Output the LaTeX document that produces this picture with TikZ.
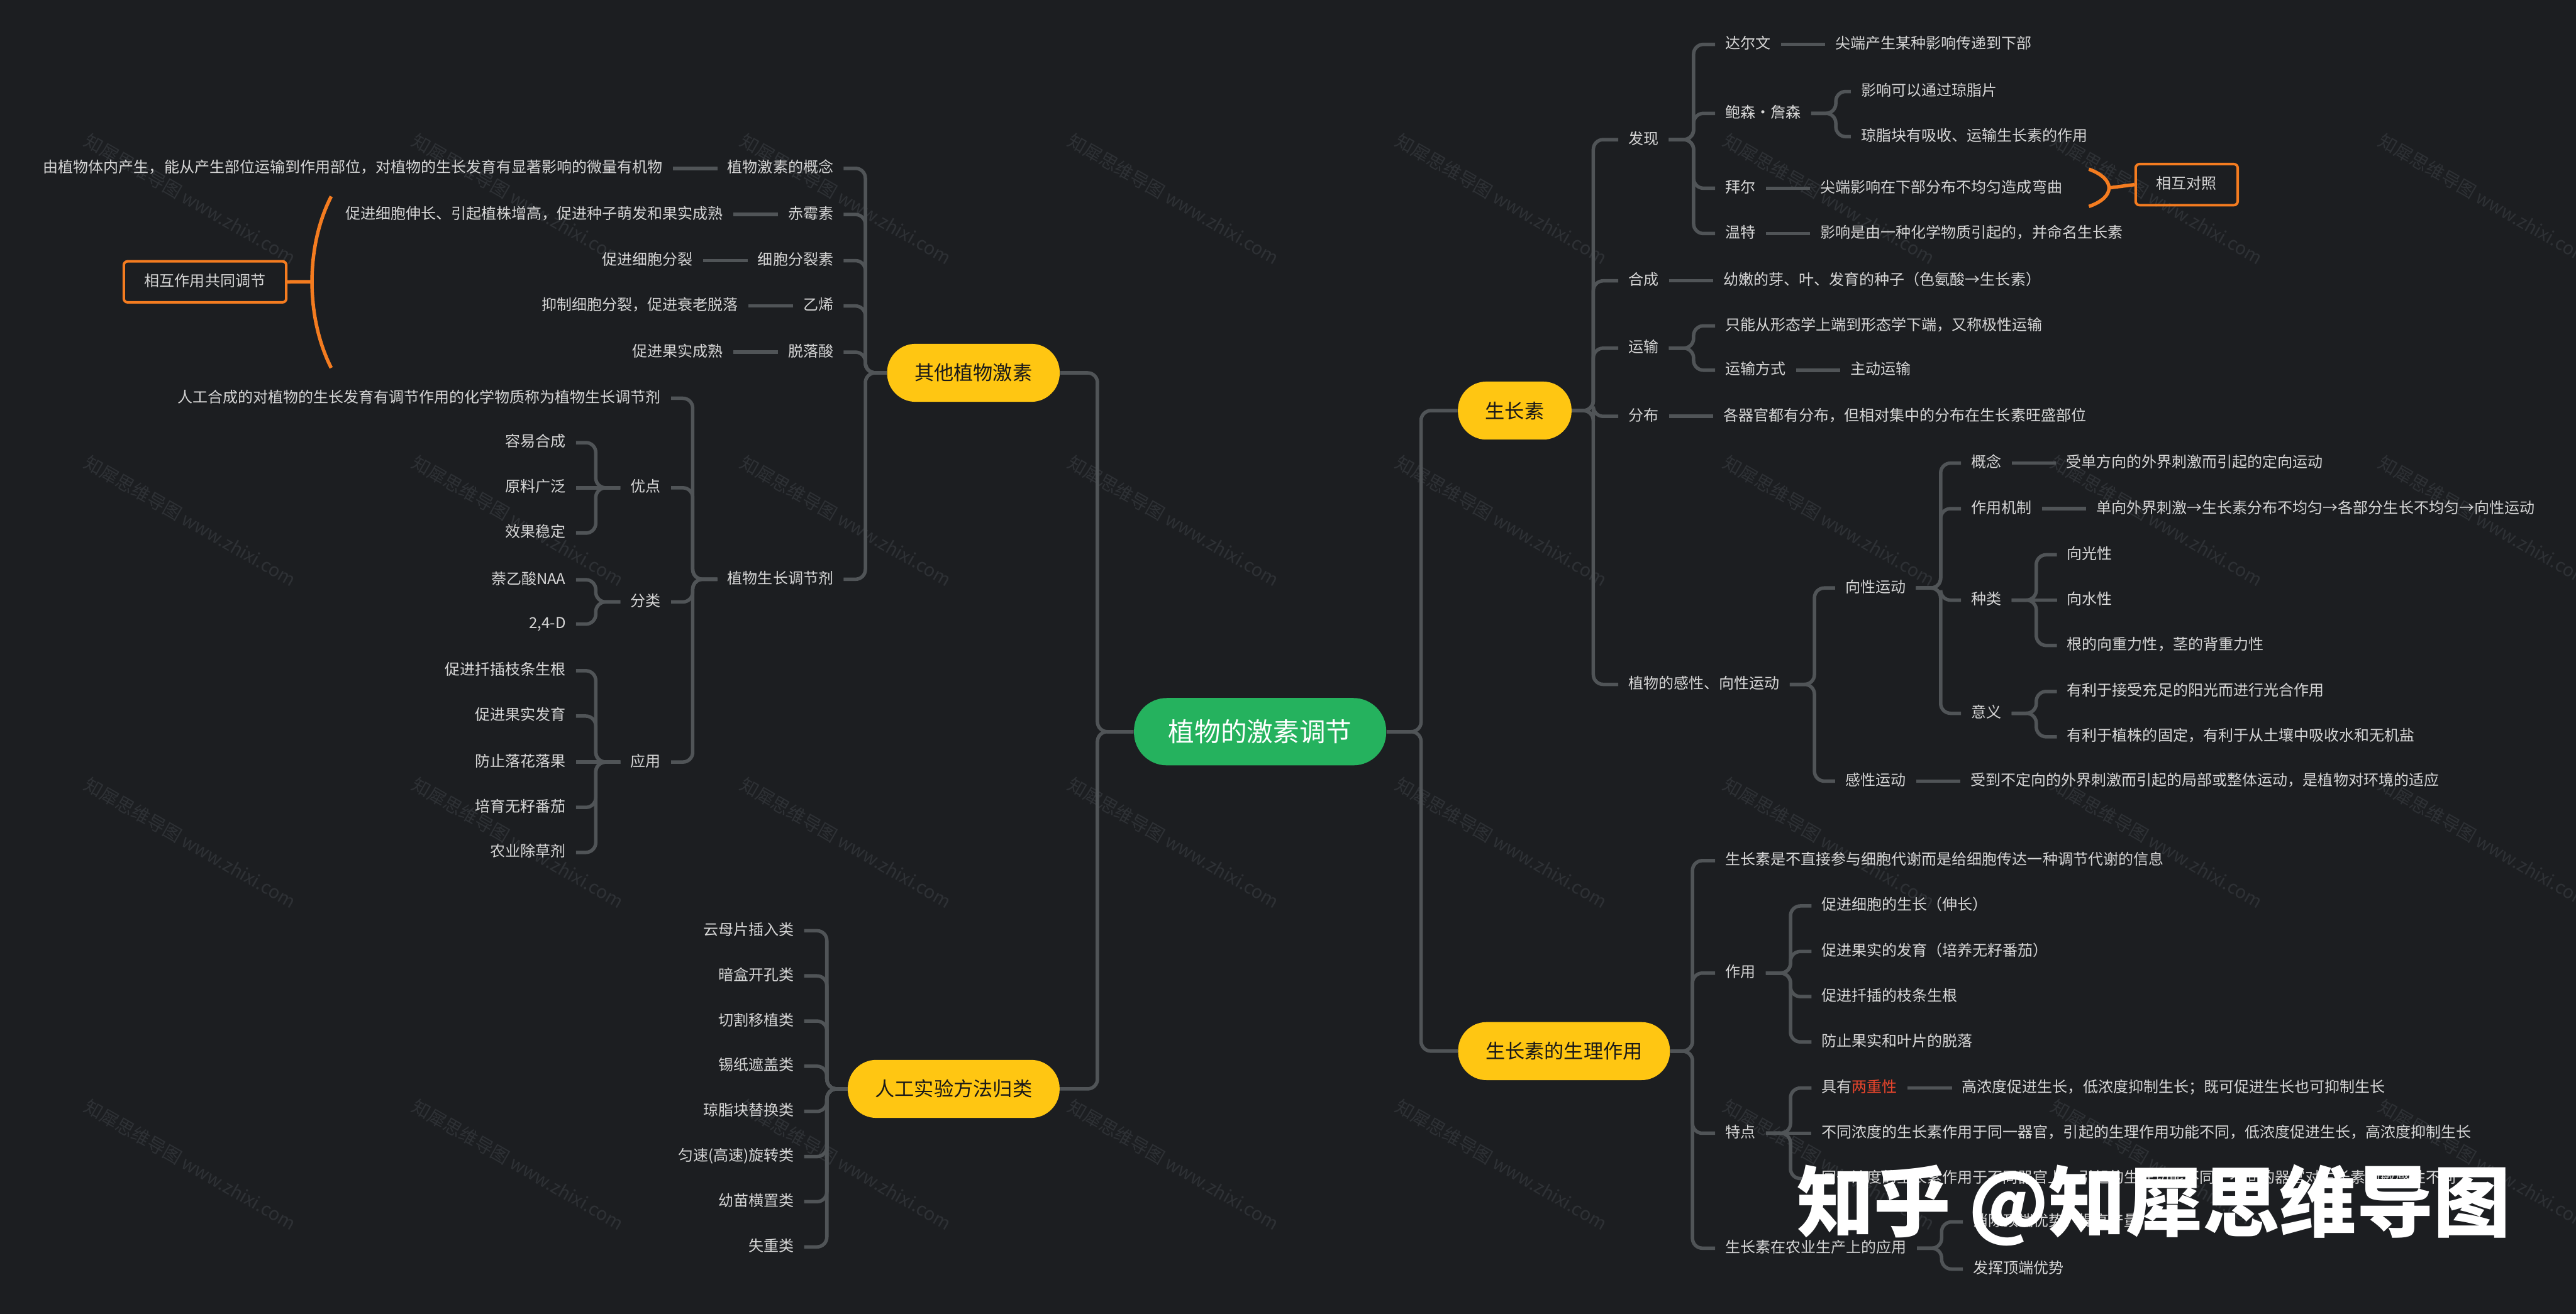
\documentclass[tikz,border=0pt]{standalone}
\usepackage{fontspec}
\setmainfont{Noto Sans CJK SC}
\usepackage{tikz}
\usetikzlibrary{positioning,calc}

\definecolor{bgc}{HTML}{1C1E21}
\definecolor{linec}{HTML}{505457}
\definecolor{txtc}{HTML}{D6D6D6}
\definecolor{topy}{HTML}{FFC612}
\definecolor{rootg}{HTML}{25B25E}
\definecolor{orng}{HTML}{F47C20}
\definecolor{redt}{HTML}{E8452C}
\definecolor{wmc}{HTML}{2E3135}

\begin{document}
\begin{tikzpicture}[x=0.03cm, y=-0.03cm,
  root/.style={fill=rootg, text=white, font=\fontsize{13.6}{16}\selectfont, rounded corners=0.6cm, minimum height=1.23cm, inner xsep=0.63cm, inner ysep=0pt},
  topic/.style={fill=topy, text=black!90, font=\fontsize{10.2}{12}\selectfont, rounded corners=0.52cm, minimum height=1.06cm, inner xsep=0.5cm, inner ysep=0pt},
  sub/.style={text=txtc, font=\fontsize{7.85}{9.4}\selectfont, inner xsep=0.18cm, inner ysep=0.04cm, text height=0.22cm, text depth=0.06cm},
  note/.style={sub, draw=orng, line width=1.3pt, rounded corners=2pt, inner xsep=0.38cm, minimum height=0.75cm},
  conn/.style={draw=linec, line width=1.8pt, rounded corners=0.18cm},
  sumline/.style={draw=orng, line width=1.8pt},
  wmark/.style={text=wmc, font=\fontsize{9.4}{11}\selectfont, rotate=-30, anchor=north west, inner sep=0pt}]

  \useasboundingbox (0,0) rectangle (1568,800);
  \fill[bgc] (0,0) rectangle (1568,800);

  % faint tiled watermark
  \foreach \i in {0,...,7}
    \foreach \j in {0,...,3}
      \node[wmark] (wm\i\j) at (55+199.5*\i, 80+196*\j) {知犀思维导图 www.zhixi.com};

  % root and main topics
  \node[root] (root) at (767,445.5) {植物的激素调节};
  \node[topic] (szs) at (922,250) {生长素};
  \node[topic] (slzy) at (952,640) {生长素的生理作用};
  \node[topic] (qt) at (592.5,227) {其他植物激素};
  \node[topic] (rg) at (580.5,663) {人工实验方法归类};
  \draw[conn] (root.east) -- ++(21,0) |- (szs.west);
  \draw[conn] (root.east) -- ++(21,0) |- (slzy.west);
  \draw[conn] (root.west) -- ++(-22,0) |- (qt.east);
  \draw[conn] (root.west) -- ++(-22,0) |- (rg.east);

  % 生长素
  \node[sub, anchor=west] (fx) at (985,85) {发现};
  \node[sub, anchor=west] (hc) at (985,171) {合成};
  \node[sub, anchor=west] (ys) at (985,212) {运输};
  \node[sub, anchor=west] (fb) at (985,253.5) {分布};
  \node[sub, anchor=west] (gx) at (985,416.7) {植物的感性、向性运动};
  \foreach \ch in {fx,hc,ys,fb,gx}
    \draw[conn] (szs.east) -- ++(13,0) |- (\ch.west);

  \node[sub, anchor=west] (dew) at (1044,27) {达尔文};
  \node[sub, anchor=west] (bsj) at (1044,69) {鲍森·詹森};
  \node[sub, anchor=west] (be) at (1044,114.6) {拜尔};
  \node[sub, anchor=west] (wt) at (1044,142.2) {温特};
  \foreach \ch in {dew,bsj,be,wt}
    \draw[conn] (fx.east) -- ++(15,0) |- (\ch.west);
  \node[sub, right=0.81cm of dew] (dewc) {尖端产生某种影响传递到下部};
  \draw[conn] (dew) -- (dewc);
  \node[sub, anchor=west] (bsja) at (1126.6,55.7) {影响可以通过琼脂片};
  \node[sub, anchor=west] (bsjb) at (1126.6,83.2) {琼脂块有吸收、运输生长素的作用};
  \foreach \ch in {bsja,bsjb}
    \draw[conn] (bsj.east) -- ++(15,0) |- (\ch.west);
  \node[sub, right=0.81cm of be] (bec) {尖端影响在下部分布不均匀造成弯曲};
  \draw[conn] (be) -- (bec);
  \node[sub, right=0.81cm of wt] (wtc) {影响是由一种化学物质引起的，并命名生长素};
  \draw[conn] (wt) -- (wtc);
  \node[note] (xhdz) at (1331,112.4) {相互对照};
  \coordinate (bry) at (1283.7,114.4);
  \draw[sumline] (1271.5,103) .. controls (1287.8,109) and (1287.8,120) .. (1271.5,125.7);
  \draw[sumline] (bry) -- (xhdz.west);

  \node[sub, right=0.81cm of hc] (hcc) {幼嫩的芽、叶、发育的种子（色氨酸→生长素）};
  \draw[conn] (hc) -- (hcc);
  \node[sub, anchor=west] (ysa) at (1044,198.4) {只能从形态学上端到形态学下端，又称极性运输};
  \node[sub, anchor=west] (ysb) at (1044,225.4) {运输方式};
  \foreach \ch in {ysa,ysb}
    \draw[conn] (ys.east) -- ++(15,0) |- (\ch.west);
  \node[sub, right=0.81cm of ysb] (ysbc) {主动运输};
  \draw[conn] (ysb) -- (ysbc);
  \node[sub, right=0.81cm of fb] (fbc) {各器官都有分布，但相对集中的分布在生长素旺盛部位};
  \draw[conn] (fb) -- (fbc);

  \node[sub, anchor=west] (xx) at (1117,358) {向性运动};
  \node[sub, anchor=west] (gan) at (1117,475.6) {感性运动};
  \foreach \ch in {xx,gan}
    \draw[conn] (gx.east) -- ++(15,0) |- (\ch.west);
  \node[sub, right=0.81cm of gan] (ganc) {受到不定向的外界刺激而引起的局部或整体运动，是植物对环境的适应};
  \draw[conn] (gan) -- (ganc);
  \node[sub, anchor=west] (gn) at (1193.6,282) {概念};
  \node[sub, anchor=west] (jz) at (1193.6,309.7) {作用机制};
  \node[sub, anchor=west] (zl) at (1193.6,365.4) {种类};
  \node[sub, anchor=west] (yy) at (1193.6,434.3) {意义};
  \foreach \ch in {gn,jz,zl,yy}
    \draw[conn] (xx.east) -- ++(15,0) |- (\ch.west);
  \node[sub, right=0.81cm of gn] (gnc) {受单方向的外界刺激而引起的定向运动};
  \draw[conn] (gn) -- (gnc);
  \node[sub, right=0.81cm of jz] (jzc) {单向外界刺激→生长素分布不均匀→各部分生长不均匀→向性运动};
  \draw[conn] (jz) -- (jzc);
  \node[sub, anchor=west] (zla) at (1252,337.8) {向光性};
  \node[sub, anchor=west] (zlb) at (1252,365.4) {向水性};
  \node[sub, anchor=west] (zlc) at (1252,393) {根的向重力性，茎的背重力性};
  \foreach \ch in {zla,zlc}
    \draw[conn] (zl.east) -- ++(15,0) |- (\ch.west);
  \draw[conn] (zl) -- (zlb);
  \node[sub, anchor=west] (yya) at (1252,421) {有利于接受充足的阳光而进行光合作用};
  \node[sub, anchor=west] (yyb) at (1252,448.6) {有利于植株的固定，有利于从土壤中吸收水和无机盐};
  \foreach \ch in {yya,yyb}
    \draw[conn] (yy.east) -- ++(15,0) |- (\ch.west);

  % 生长素的生理作用
  \node[sub, anchor=west] (xx1) at (1044,524) {生长素是不直接参与细胞代谢而是给细胞传达一种调节代谢的信息};
  \node[sub, anchor=west] (zy) at (1044,592.5) {作用};
  \node[sub, anchor=west] (td) at (1044,690) {特点};
  \node[sub, anchor=west] (nyyy) at (1044,760) {生长素在农业生产上的应用};
  \foreach \ch in {xx1,zy,td,nyyy}
    \draw[conn] (slzy.east) -- ++(13.5,0) |- (\ch.west);
  \node[sub, anchor=west] (zya) at (1102.6,551.6) {促进细胞的生长（伸长）};
  \node[sub, anchor=west] (zyb) at (1102.6,579.3) {促进果实的发育（培养无籽番茄）};
  \node[sub, anchor=west] (zyc) at (1102.6,606.8) {促进扦插的枝条生根};
  \node[sub, anchor=west] (zyd) at (1102.6,634.4) {防止果实和叶片的脱落};
  \foreach \ch in {zya,zyb,zyc,zyd}
    \draw[conn] (zy.east) -- ++(15,0) |- (\ch.west);
  \node[sub, anchor=west] (lxz) at (1102.6,662.5) {具有\textcolor{redt}{两重性}};
  \node[sub, anchor=west] (tdb) at (1102.6,690) {不同浓度的生长素作用于同一器官，引起的生理作用功能不同，低浓度促进生长，高浓度抑制生长};
  \node[sub, anchor=west] (tdc) at (1102.6,717.6) {同一浓度的生长素作用于不同器官上，引起的生理功能不同，不同的器官对生长素的敏感性不同};
  \foreach \ch in {lxz,tdc}
    \draw[conn] (td.east) -- ++(15,0) |- (\ch.west);
  \draw[conn] (td) -- (tdb);
  \node[sub, right=0.81cm of lxz] (lxzc) {高浓度促进生长，低浓度抑制生长；既可促进生长也可抑制生长};
  \draw[conn] (lxz) -- (lxzc);
  \node[sub, anchor=west] (nya) at (1194.8,744) {消除顶端优势，提高产量};
  \node[sub, anchor=west] (nyb) at (1194.8,772.7) {发挥顶端优势};
  \foreach \ch in {nya,nyb}
    \draw[conn] (nyyy.east) -- ++(15,0) |- (\ch.west);

  % 其他植物激素
  \node[sub, anchor=east] (gmzs) at (513.5,102.5) {植物激素的概念};
  \node[sub, anchor=east] (cms) at (513.5,130.6) {赤霉素};
  \node[sub, anchor=east] (xbfl) at (513.5,158.7) {细胞分裂素};
  \node[sub, anchor=east] (yx) at (513.5,186.3) {乙烯};
  \node[sub, anchor=east] (tly) at (513.5,214.4) {脱落酸};
  \node[sub, anchor=east] (tjj) at (513.5,352.7) {植物生长调节剂};
  \foreach \ch in {gmzs,cms,xbfl,yx,tly,tjj}
    \draw[conn] (qt.west) -- ++(-13,0) |- (\ch.east);
  \node[sub, left=0.81cm of gmzs] (gmzsc) {由植物体内产生，能从产生部位运输到作用部位，对植物的生长发育有显著影响的微量有机物};
  \node[sub, left=0.81cm of cms] (cmsc) {促进细胞伸长、引起植株增高，促进种子萌发和果实成熟};
  \node[sub, left=0.81cm of xbfl] (xbflc) {促进细胞分裂};
  \node[sub, left=0.81cm of yx] (yxc) {抑制细胞分裂，促进衰老脱落};
  \node[sub, left=0.81cm of tly] (tlyc) {促进果实成熟};
  \foreach \ch in {gmzs,cms,xbfl,yx,tly}
    \draw[conn] (\ch) -- (\ch c);
  \node[note] (hzy) at (124.8,171.6) {相互作用共同调节};
  \coordinate (brl) at (189.4,171.5);
  \draw[sumline] (201.6,119.6) .. controls (186,150) and (186,193) .. (201.6,224);
  \draw[sumline] (brl) -- (hzy.east);

  \node[sub, anchor=east] (tjja) at (408.5,242.5) {人工合成的对植物的生长发育有调节作用的化学物质称为植物生长调节剂};
  \node[sub, anchor=east] (yd) at (408.5,297) {优点};
  \node[sub, anchor=east] (fl) at (408.5,366.5) {分类};
  \node[sub, anchor=east] (yyong) at (408.5,464) {应用};
  \foreach \ch in {tjja,yd,fl,yyong}
    \draw[conn] (tjj.west) -- ++(-15,0) |- (\ch.east);
  \node[sub, anchor=east] (yda) at (350.6,269.5) {容易合成};
  \node[sub, anchor=east] (ydb) at (350.6,297) {原料广泛};
  \node[sub, anchor=east] (ydc) at (350.6,324.6) {效果稳定};
  \foreach \ch in {yda,ydc}
    \draw[conn] (yd.west) -- ++(-15,0) |- (\ch.east);
  \draw[conn] (yd) -- (ydb);
  \node[sub, anchor=east] (fla) at (350.6,353) {萘乙酸NAA};
  \node[sub, anchor=east] (flb) at (350.6,380) {2,4-D};
  \foreach \ch in {fla,flb}
    \draw[conn] (fl.west) -- ++(-15,0) |- (\ch.east);
  \node[sub, anchor=east] (yya2) at (350.6,408.4) {促进扦插枝条生根};
  \node[sub, anchor=east] (yyb2) at (350.6,436) {促进果实发育};
  \node[sub, anchor=east] (yyc2) at (350.6,464) {防止落花落果};
  \node[sub, anchor=east] (yyd2) at (350.6,491.6) {培育无籽番茄};
  \node[sub, anchor=east] (yye2) at (350.6,519) {农业除草剂};
  \foreach \ch in {yya2,yyb2,yyd2,yye2}
    \draw[conn] (yyong.west) -- ++(-15,0) |- (\ch.east);
  \draw[conn] (yyong) -- (yyc2);

  % 人工实验方法归类
  \foreach \t [count=\k] in {云母片插入类,暗盒开孔类,切割移植类,锡纸遮盖类,琼脂块替换类,匀速(高速)旋转类,幼苗横置类,失重类}
    \node[sub, anchor=east] (ff\k) at (489.5,539.2+27.5*\k) {\t};
  \foreach \k in {1,...,8}
    \draw[conn] (rg.west) -- ++(-12.5,0) |- (ff\k.east);

  % overlaid site mark
  \node[font=\fontsize{40}{44}\selectfont\bfseries, text=white] (zhwm) at (1311,734) {知乎 @知犀思维导图};
\end{tikzpicture}
\end{document}
